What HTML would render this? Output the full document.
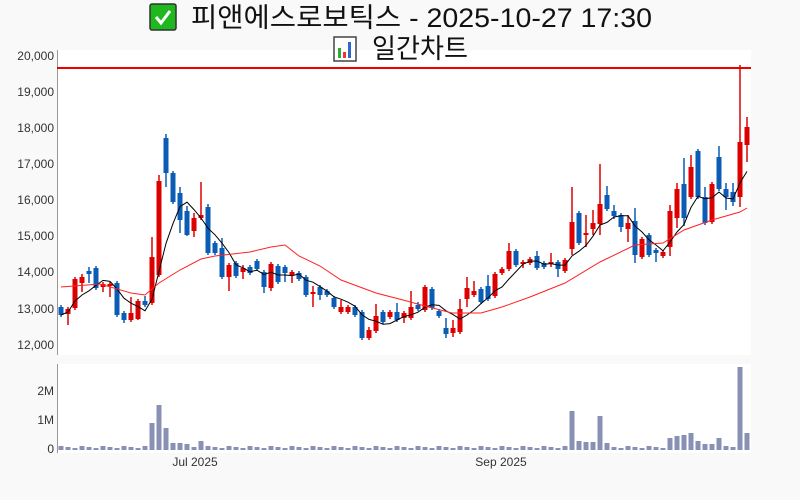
<!DOCTYPE html>
<html><head><meta charset="utf-8"><style>
body{margin:0;background:#f9f9f9;width:800px;height:500px;overflow:hidden;font-family:"Liberation Sans","Noto Sans CJK KR",sans-serif}
</style></head><body>
<svg id="s" width="800" height="500" xmlns="http://www.w3.org/2000/svg" style="position:absolute;left:0;top:0">
<rect x="57" y="50" width="694" height="305" fill="#fff"/>
<rect x="57" y="364" width="694" height="89" fill="#fff"/>
<line x1="57.5" y1="50" x2="57.5" y2="355" stroke="#999"/>
<line x1="57.5" y1="364" x2="57.5" y2="453" stroke="#999"/>
<g font-size="12" fill="#333" text-anchor="end" font-family="Liberation Sans,sans-serif">
<text x="54" y="60">20,000</text><text x="54" y="96">19,000</text><text x="54" y="132">18,000</text>
<text x="54" y="168">17,000</text><text x="54" y="204">16,000</text><text x="54" y="240">15,000</text>
<text x="54" y="276">14,000</text><text x="54" y="313">13,000</text><text x="54" y="349">12,000</text>
<text x="54" y="395">2M</text><text x="54" y="424">1M</text><text x="54" y="453">0</text>
</g>
<g font-size="12" fill="#333" text-anchor="middle"><text x="195" y="466">Jul 2025</text><text x="501" y="466">Sep 2025</text></g>
<line x1="57" y1="68" x2="751" y2="68" stroke="#e00" stroke-width="2"/>
<g id="c"></g>
<rect x="150" y="4" width="26" height="26" fill="#1fb81f" stroke="#333" stroke-width="1.5" rx="2"/>
<path d="M156 17 l5 6 l9 -12" stroke="#fff" stroke-width="3" fill="none"/>
<text x="191" y="27" font-size="27" fill="#111" textLength="461" lengthAdjust="spacingAndGlyphs">피앤에스로보틱스 - 2025-10-27 17:30</text>
<rect x="334" y="37" width="22" height="24" fill="#fff" stroke="#444" stroke-width="1.5"/>
<rect x="338" y="48" width="3" height="10" fill="#3a3"/><rect x="343" y="52" width="3" height="6" fill="#e33"/><rect x="348" y="42" width="3" height="16" fill="#36c"/>
<text x="372" y="58" font-size="27" fill="#111" textLength="96" lengthAdjust="spacingAndGlyphs">일간차트</text>
</svg>
<script>
const d=[[61,307,315,305,317,'b'],[68,309,314,307,325,'r'],[75,279,308,277,310,'r'],[82,277,283,274,292,'r'],[89,271,274,267,283,'b'],[96,268,288,266,290,'b'],[103,284,287,282,292,'r'],[110,284,286,282,297,'r'],[117,283,315,281,317,'b'],[124,313,320,311,323,'b'],[131,313,320,297,322,'r'],[138,301,319,299,320,'r'],[145,301,305,296,307,'b'],[152,257,303,237,305,'r'],[159,181,275,175,277,'r'],[166,138,173,134,187,'b'],[173,173,202,171,204,'b'],[180,193,220,187,233,'b'],[187,211,235,206,236,'b'],[194,218,231,213,237,'r'],[201,215,218,182,220,'r'],[208,207,253,204,255,'b'],[215,243,253,241,255,'b'],[222,248,277,238,279,'b'],[229,265,277,263,291,'r'],[236,263,276,261,278,'b'],[243,268,272,265,279,'r'],[250,267,273,265,275,'b'],[257,261,269,259,271,'b'],[264,272,287,270,293,'b'],[271,264,288,262,291,'r'],[278,266,282,264,284,'b'],[285,267,273,265,282,'b'],[292,272,275,270,283,'r'],[299,273,279,271,281,'b'],[306,277,295,275,297,'b'],[313,292,294,286,307,'r'],[320,287,295,285,300,'b'],[327,291,295,289,297,'b'],[334,298,307,296,309,'b'],[341,307,312,300,314,'r'],[348,307,312,305,314,'r'],[355,307,315,305,317,'b'],[362,312,338,310,340,'b'],[369,330,338,327,340,'r'],[376,316,331,304,333,'r'],[383,312,322,310,324,'b'],[390,312,317,310,319,'r'],[397,312,320,303,322,'b'],[404,313,318,311,323,'r'],[411,307,318,291,320,'r'],[418,305,309,302,311,'b'],[425,287,310,285,312,'r'],[432,289,308,287,310,'b'],[439,311,316,309,318,'b'],[446,328,334,318,338,'b'],[453,328,333,320,337,'r'],[460,309,332,299,334,'r'],[467,288,299,277,307,'r'],[474,291,295,281,297,'r'],[481,289,302,287,304,'b'],[488,286,299,275,301,'b'],[495,274,296,272,298,'r'],[502,269,273,267,275,'r'],[509,251,269,243,271,'r'],[516,251,265,249,267,'b'],[523,262,264,260,268,'r'],[530,259,263,257,265,'r'],[537,256,268,251,270,'b'],[544,263,267,261,269,'b'],[551,262,264,253,267,'r'],[558,262,269,260,277,'b'],[565,260,271,258,273,'r'],[572,222,249,187,255,'r'],[579,213,243,211,245,'b'],[586,233,235,215,247,'r'],[593,223,229,210,235,'r'],[600,204,224,164,235,'r'],[607,195,209,186,211,'b'],[614,211,216,205,219,'b'],[621,215,227,213,232,'b'],[628,223,229,215,242,'r'],[635,221,255,208,263,'b'],[642,239,257,237,259,'r'],[649,235,255,233,257,'b'],[656,250,253,248,262,'b'],[663,252,256,250,258,'r'],[670,211,247,205,256,'r'],[677,189,218,183,228,'r'],[684,184,218,158,226,'b'],[691,167,197,155,199,'r'],[698,151,197,149,199,'b'],[705,197,223,187,225,'b'],[712,184,222,182,224,'r'],[719,157,189,146,191,'b'],[726,189,197,183,210,'b'],[733,192,202,183,206,'b'],[740,142,197,65,207,'r'],[747,127,145,117,162,'r']];
const vol={152:423,159:405,166:428,173:443,180:443,187:444,201:441,572:411,579:441,586:442,593:442,600:416,607:443,670:438,677:436,684:435,691:433,698:441,705:444,712:444,719:438,726:446,733:447,740:367,747:433};
let h='';const C={r:'#dd0000',b:'#0b5cb5'};
const closes=[];
d.forEach(([x,t,b,hi,lo,c],i)=>{h+=`<line x1="${x}" y1="${hi}" x2="${x}" y2="${lo}" stroke="${C[c]}" stroke-width="1.5"/><rect x="${x-2.5}" y="${t}" width="5" height="${Math.max(b-t,2)}" fill="${C[c]}"/>`;
closes.push(c=='r'?t:b);const v=vol[x]||(446+(i*7%3));h+=`<rect x="${x-2.5}" y="${v}" width="5" height="${450-v}" fill="#8891b4"/>`;});
let p='';closes.forEach((c,i)=>{const s=closes.slice(Math.max(0,i-4),i+1);const m=s.reduce((a,b)=>a+b)/s.length;p+=(i?'L':'M')+d[i][0]+' '+m.toFixed(1);});
h+=`<path d="${p}" stroke="#000" fill="none" stroke-width="1"/>`;
const r=[[61,287],[100,284],[131,293],[145,295],[159,283],[180,270],[201,259],[215,256],[250,252],[271,247],[285,245],[299,256],[320,266],[341,280],[376,293],[403,300],[425,306],[452,313],[481,313],[502,307],[530,297],[565,283],[600,262],[635,245],[663,243],[684,230],[712,220],[740,212],[747,208]];
h+=`<path d="M${r.map(a=>a.join(' ')).join('L')}" stroke="#f22" fill="none" stroke-width="1"/>`;
document.getElementById('c').innerHTML=h;
</script>
</body></html>
